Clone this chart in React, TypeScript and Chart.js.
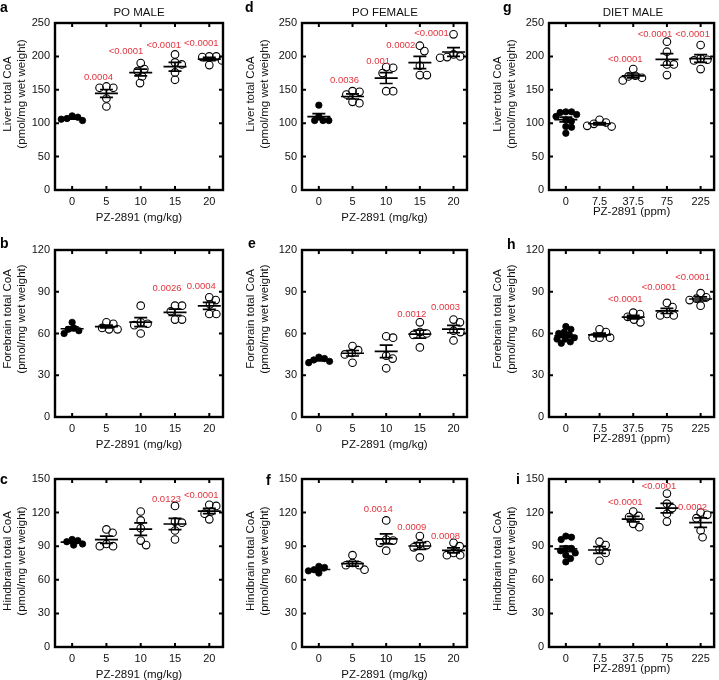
import React, { useEffect, useRef } from "react";
import { Chart, registerables } from "chart.js";

Chart.register(...registerables);

const FONT = '"Liberation Sans", Arial, Helvetica, sans-serif';
const RED = "#e2343e";
const INK = "#111";

// ---------- categories / ticks ----------
const doseMgKg = ["0", "5", "10", "15", "20"];
const dosePpm = ["0", "7.5", "37.5", "75", "225"];
const liverTicks = [0, 50, 100, 150, 200, 250];
const forebrainTicks = [0, 30, 60, 90, 120];
const hindbrainTicks = [0, 30, 60, 90, 120, 150];

// ---------- a: Liver, PO male ----------
const liverPoMale = [
  [104, 106, 107, 109, 111],
  [155, 153, 153, 137, 125],
  [190, 181, 178, 170, 160],
  [203, 191, 188, 176, 165],
  [200, 200, 199, 194, 187],
];
const liverPoMaleP = ["", "0.0004", "<0.0001", "<0.0001", "<0.0001"];
const liverPoMalePY = [0, 169, 208, 217, 219];

// ---------- d: Liver, PO female ----------
const liverPoFemale = [
  [127, 110, 104, 104, 104],
  [147, 143, 148, 130, 132],
  [183, 184, 175, 148, 148],
  [216, 208, 186, 172, 172],
  [233, 203, 200, 199, 198],
];
const liverPoFemaleP = ["", "0.0036", "0.001", "0.0002", "<0.0001"];
const liverPoFemalePY = [0, 164, 193, 217, 235];

// ---------- g: Liver, diet male ----------
const liverDietMale = [
  [117, 116, 117, 113, 110, 105, 103, 95, 94, 85],
  [105, 101, 99, 96, 95],
  [181, 171, 170, 168, 164],
  [222, 207, 188, 188, 172],
  [217, 197, 195, 194, 181],
];
const liverDietMaleP = ["", "", "<0.0001", "<0.0001", "<0.0001"];
const liverDietMalePY = [0, 0, 195, 233, 233];

// ---------- b: Forebrain, PO male ----------
const forebrainPoMale = [
  [68, 64, 63, 62, 60],
  [68, 67, 64, 63, 63],
  [80, 68, 67, 66, 60],
  [80, 80, 76, 70, 70],
  [86, 84, 81, 74, 74],
];
const forebrainPoMaleP = ["", "", "", "0.0026", "0.0004"];
const forebrainPoMalePY = [0, 0, 0, 92.4, 94];

// ---------- e: Forebrain, PO female ----------
const forebrainPoFemale = [
  [43, 42, 41, 40, 39],
  [51, 48, 46, 45, 39],
  [58, 57, 44, 42, 35],
  [68, 61, 60, 59, 50],
  [70, 68, 62, 61, 55],
];
const forebrainPoFemaleP = ["", "", "", "0.0012", "0.0003"];
const forebrainPoFemalePY = [0, 0, 0, 74, 78.7];

// ---------- h: Forebrain, diet male ----------
const forebrainDietMale = [
  [65, 63, 61, 60, 59, 57, 56, 56, 54, 53],
  [63, 61, 57, 57, 57],
  [75, 74, 72, 70, 68],
  [82, 79, 74, 73, 73],
  [89, 86, 85, 84, 80],
];
const forebrainDietMaleP = ["", "", "<0.0001", "<0.0001", "<0.0001"];
const forebrainDietMalePY = [0, 0, 84.2, 93, 100];

// ---------- c: Hindbrain, PO male ----------
const hindbrainPoMale = [
  [96, 95, 94, 92, 91],
  [105, 102, 92, 90, 90],
  [121, 113, 106, 95, 91],
  [126, 111, 112, 104, 96],
  [127, 126, 121, 119, 114],
];
const hindbrainPoMaleP = ["", "", "", "0.0123", "<0.0001"];
const hindbrainPoMalePY = [0, 0, 0, 131.5, 135.4];

// ---------- f: Hindbrain, PO female ----------
const hindbrainPoFemale = [
  [72, 71, 69, 68, 66],
  [82, 75, 73, 73, 69],
  [113, 96, 95, 93, 86],
  [99, 92, 91, 89, 80],
  [93, 90, 84, 82, 82],
];
const hindbrainPoFemaleP = ["", "", "0.0014", "0.0009", "0.0008"];
const hindbrainPoFemalePY = [0, 0, 122.5, 107, 98.6];

// ---------- i: Hindbrain, diet male ----------
const hindbrainDietMale = [
  [99, 98, 96, 88, 88, 86, 84, 82, 79, 76],
  [94, 91, 87, 84, 77],
  [121, 117, 116, 110, 107],
  [137, 128, 124, 119, 112],
  [120, 118, 115, 104, 98],
];
const hindbrainDietMaleP = ["", "", "<0.0001", "<0.0001", "0.0002"];
const hindbrainDietMalePY = [0, 0, 129, 143, 125];

// ---------- layout ----------
const PLOT_L = [55, 302, 549];
const PLOT_R = [223, 467, 716];
const PLOT_T = [23, 250, 479];
const PLOT_B = [190, 417, 647];
const CANVAS_L = [0, 240, 480];
const CANVAS_W = [240, 239, 239];
const CANVAS_T = [0, 227, 455];
const CANVAS_H = 232;
const Y_AXIS_W = [55, 59, 59];
const X_AXIS_H = [35, 35, 28.5];
const Y_TITLE_X = [14, 257, 504];
const Y_TITLE_Y = [94, 319, 561];
const X_MIN = -0.5;
const X_MAX = 4.4;
const OPEN_R = 3.8;
const FILLED_R = 3.2;
const SWARM_D_OPEN = 7;
const SWARM_D_FILLED = 5.8;

type PanelSpec = {
  letter: string;
  letterX: number;
  letterBase: number;
  title?: string;
  col: number;
  row: number;
  cats: string[];
  xTitle: string;
  yTitle: string[];
  yTicks: number[];
  groups: number[][];
  pText: string[];
  pY: number[];
};

const liverTitle = ["Liver total CoA", "(pmol/mg wet weight)"];
const foreTitle = ["Forebrain total CoA", "(pmol/mg wet weight)"];
const hindTitle = ["Hindbrain total CoA", "(pmol/mg wet weight)"];
const mgTitle = "PZ-2891 (mg/kg)";
const ppmTitle = "PZ-2891 (ppm)";

const panels: PanelSpec[] = [
  { letter: "a", letterX: 0, letterBase: 12, title: "PO MALE", col: 0, row: 0, cats: doseMgKg, xTitle: mgTitle, yTitle: liverTitle, yTicks: liverTicks, groups: liverPoMale, pText: liverPoMaleP, pY: liverPoMalePY },
  { letter: "d", letterX: 245, letterBase: 12, title: "PO FEMALE", col: 1, row: 0, cats: doseMgKg, xTitle: mgTitle, yTitle: liverTitle, yTicks: liverTicks, groups: liverPoFemale, pText: liverPoFemaleP, pY: liverPoFemalePY },
  { letter: "g", letterX: 503, letterBase: 12, title: "DIET MALE", col: 2, row: 0, cats: dosePpm, xTitle: ppmTitle, yTitle: liverTitle, yTicks: liverTicks, groups: liverDietMale, pText: liverDietMaleP, pY: liverDietMalePY },
  { letter: "b", letterX: 0, letterBase: 248, col: 0, row: 1, cats: doseMgKg, xTitle: mgTitle, yTitle: foreTitle, yTicks: forebrainTicks, groups: forebrainPoMale, pText: forebrainPoMaleP, pY: forebrainPoMalePY },
  { letter: "e", letterX: 248, letterBase: 248, col: 1, row: 1, cats: doseMgKg, xTitle: mgTitle, yTitle: foreTitle, yTicks: forebrainTicks, groups: forebrainPoFemale, pText: forebrainPoFemaleP, pY: forebrainPoFemalePY },
  { letter: "h", letterX: 507, letterBase: 249, col: 2, row: 1, cats: dosePpm, xTitle: ppmTitle, yTitle: foreTitle, yTicks: forebrainTicks, groups: forebrainDietMale, pText: forebrainDietMaleP, pY: forebrainDietMalePY },
  { letter: "c", letterX: 0, letterBase: 484, col: 0, row: 2, cats: doseMgKg, xTitle: mgTitle, yTitle: hindTitle, yTicks: hindbrainTicks, groups: hindbrainPoMale, pText: hindbrainPoMaleP, pY: hindbrainPoMalePY },
  { letter: "f", letterX: 266, letterBase: 485, col: 1, row: 2, cats: doseMgKg, xTitle: mgTitle, yTitle: hindTitle, yTicks: hindbrainTicks, groups: hindbrainPoFemale, pText: hindbrainPoFemaleP, pY: hindbrainPoFemalePY },
  { letter: "i", letterX: 516, letterBase: 484, col: 2, row: 2, cats: dosePpm, xTitle: ppmTitle, yTitle: hindTitle, yTicks: hindbrainTicks, groups: hindbrainDietMale, pText: hindbrainDietMaleP, pY: hindbrainDietMalePY },
];

// beeswarm layout: x offsets (in data units) so circles don't overlap much
function swarmOffsets(vals: number[], pxX: number, pxY: number, D: number): number[] {
  const order = vals.map((_, i) => i).sort((a, b) => vals[b] - vals[a]);
  const placed: { x: number; y: number }[] = [];
  const off = new Array(vals.length).fill(0);
  for (const i of order) {
    const y = vals[i] * pxY;
    const cands = [0];
    for (const p of placed) {
      const dy = Math.abs(p.y - y);
      if (dy < D) {
        const dx = Math.sqrt(D * D - dy * dy);
        cands.push(p.x + dx, p.x - dx);
      }
    }
    cands.sort((a, b) => Math.abs(a) - Math.abs(b));
    let chosen = 0;
    for (const c of cands) {
      if (placed.every((p) => (p.x - c) ** 2 + (p.y - y) ** 2 >= D * D - 0.01)) {
        chosen = c;
        break;
      }
    }
    placed.push({ x: chosen, y });
    off[i] = chosen / pxX;
  }
  return off;
}

function meanSem(v: number[]) {
  const n = v.length;
  const m = v.reduce((s, x) => s + x, 0) / n;
  const sd = Math.sqrt(v.reduce((s, x) => s + (x - m) ** 2, 0) / (n - 1));
  return { m, sem: sd / Math.sqrt(n) };
}

function Panel({ spec }: { spec: PanelSpec }) {
  const ref = useRef<HTMLCanvasElement>(null);
  const c = spec.col;
  const r = spec.row;
  const cl = CANVAS_L[c];
  const ct = CANVAS_T[r];
  const cw = CANVAS_W[c];
  const ch = CANVAS_H;

  useEffect(() => {
    if (!ref.current) return;
    const yMax = spec.yTicks[spec.yTicks.length - 1];
    const pxX = (PLOT_R[c] - PLOT_L[c]) / (X_MAX - X_MIN);
    const pxY = (PLOT_B[r] - PLOT_T[r]) / yMax;

    const pts: { x: number; y: number }[][] = spec.groups.map((vals, g) => {
      const off = swarmOffsets(vals, pxX, pxY, g === 0 ? SWARM_D_FILLED : SWARM_D_OPEN);
      return vals.map((v, j) => ({ x: g + off[j], y: v }));
    });
    const ctrlData = pts[0];
    const treatedData = pts.slice(1).flat();

    const decor = {
      id: "decor",
      afterDatasetsDraw(chart: any) {
        const { ctx, chartArea: a, scales } = chart;
        const x = scales.x;
        const y = scales.y;
        ctx.save();
        ctx.strokeStyle = "#000";
        ctx.lineCap = "butt";
        // mean ± SEM
        ctx.lineWidth = 1.7;
        spec.groups.forEach((vals, g) => {
          const { m, sem } = meanSem(vals);
          const px = x.getPixelForValue(g);
          const pm = y.getPixelForValue(m);
          const pu = y.getPixelForValue(m + sem);
          const pl = y.getPixelForValue(m - sem);
          ctx.beginPath();
          ctx.moveTo(px - 11.5, pm);
          ctx.lineTo(px + 11.5, pm);
          ctx.moveTo(px, pu);
          ctx.lineTo(px, pl);
          ctx.moveTo(px - 6.5, pu);
          ctx.lineTo(px + 6.5, pu);
          ctx.moveTo(px - 6.5, pl);
          ctx.lineTo(px + 6.5, pl);
          ctx.stroke();
        });
        // frame
        ctx.lineWidth = 2.4;
        ctx.strokeRect(a.left, a.top, a.right - a.left, a.bottom - a.top);
        // inner ticks
        ctx.lineWidth = 2;
        ctx.beginPath();
        spec.yTicks.slice(1, -1).forEach((v) => {
          const py = y.getPixelForValue(v);
          ctx.moveTo(a.left, py);
          ctx.lineTo(a.left + 4, py);
          ctx.moveTo(a.right, py);
          ctx.lineTo(a.right - 4, py);
        });
        spec.cats.forEach((_, g) => {
          const px = x.getPixelForValue(g);
          ctx.moveTo(px, a.top);
          ctx.lineTo(px, a.top + 4);
          ctx.moveTo(px, a.bottom);
          ctx.lineTo(px, a.bottom - 4);
        });
        ctx.stroke();
        // p-values (placed right to left, avoiding points and each other)
        ctx.font = `9.5px ${FONT}`;
        ctx.fillStyle = RED;
        ctx.textAlign = "center";
        ctx.textBaseline = "middle";
        let prev: { left: number; y: number } | null = null;
        for (let g = spec.pText.length - 1; g >= 0; g--) {
          const t = spec.pText[g];
          if (!t) continue;
          const gx = x.getPixelForValue(g);
          const ly = y.getPixelForValue(spec.pY[g]);
          const w = ctx.measureText(t).width;
          let cx = gx - 8;
          if (cx + w / 2 > a.right + 2) cx = a.right + 2 - w / 2;
          if (prev && Math.abs(prev.y - ly) < 9 && cx + w / 2 > prev.left - 3) {
            cx = prev.left - 3 - w / 2;
          }
          const pp = pts[g].map((p) => ({ x: x.getPixelForValue(p.x), y: y.getPixelForValue(p.y) }));
          const hits = (cc: number) =>
            pp.some((p) => Math.abs(p.y - ly) < 3.5 && p.x > cc - w / 2 - 4 && p.x < cc + w / 2 + 4);
          let guard = 0;
          while (hits(cx) && guard++ < 60) cx -= 1;
          ctx.fillText(t, cx, ly);
          prev = { left: cx - w / 2, y: ly };
        }
        ctx.restore();
      },
    };

    const chart = new Chart(ref.current, {
      type: "scatter",
      data: {
        datasets: [
          {
            data: ctrlData,
            pointRadius: FILLED_R,
            pointBackgroundColor: "#000",
            pointBorderColor: "#000",
            pointBorderWidth: 0.8,
            pointHoverRadius: FILLED_R,
          },
          {
            data: treatedData,
            pointRadius: OPEN_R,
            pointBackgroundColor: "rgba(255,255,255,0)",
            pointBorderColor: "#000",
            pointBorderWidth: 1.1,
            pointHoverRadius: OPEN_R,
          },
        ],
      },
      options: {
        responsive: false,
        maintainAspectRatio: false,
        animation: false,
        events: [],
        layout: {
          padding: {
            left: PLOT_L[c] - Y_AXIS_W[c] - cl,
            right: cl + cw - PLOT_R[c],
            top: PLOT_T[r] - ct,
            bottom: ct + ch - PLOT_B[r] - X_AXIS_H[c],
          },
        },
        plugins: {
          legend: { display: false },
          tooltip: { enabled: false },
          title: { display: false },
        },
        scales: {
          x: {
            type: "linear",
            min: X_MIN,
            max: X_MAX,
            afterBuildTicks: (s: any) => {
              s.ticks = spec.cats.map((_, i) => ({ value: i }));
            },
            afterFit: (s: any) => {
              s.height = X_AXIS_H[c];
            },
            grid: { display: false, drawTicks: false },
            border: { display: false },
            ticks: {
              padding: 5,
              color: INK,
              font: { family: FONT, size: 11 },
              autoSkip: false,
              maxRotation: 0,
              callback: (v: any) => spec.cats[Math.round(Number(v))] ?? "",
            },
            title: {
              display: true,
              text: spec.xTitle,
              color: INK,
              font: { family: FONT, size: 11.5 },
              padding: 0,
            },
          },
          y: {
            type: "linear",
            min: 0,
            max: yMax,
            afterBuildTicks: (s: any) => {
              s.ticks = spec.yTicks.map((v) => ({ value: v }));
            },
            afterFit: (s: any) => {
              s.width = Y_AXIS_W[c];
            },
            grid: { display: false, drawTicks: false },
            border: { display: false },
            ticks: {
              padding: 5,
              color: INK,
              font: { family: FONT, size: 11 },
            },
          },
        },
      },
      plugins: [decor],
    } as any);
    return () => chart.destroy();
  }, []);

  const plotCx = Math.round((PLOT_L[c] + PLOT_R[c]) / 2);
  const TW = 140;
  const TH = 28;
  return (
    <>
      <canvas
        ref={ref}
        width={cw}
        height={ch}
        style={{ position: "absolute", left: cl, top: ct, width: cw, height: ch, display: "block" }}
      />
      {spec.title && (
        <div
          style={{
            position: "absolute",
            left: plotCx - 60,
            top: 6,
            width: 120,
            textAlign: "center",
            whiteSpace: "nowrap",
            fontSize: 11.5,
            lineHeight: "13px",
            color: INK,
          }}
        >
          {spec.title}
        </div>
      )}
      <div
        style={{
          position: "absolute",
          left: spec.letterX,
          top: Math.round(spec.letterBase - 12),
          fontSize: 14,
          lineHeight: "14px",
          fontWeight: "bold",
          color: "#000",
        }}
      >
        {spec.letter}
      </div>
      <div
        style={{
          position: "absolute",
          left: Y_TITLE_X[c] - TW / 2,
          top: Y_TITLE_Y[r] - TH / 2,
          width: TW,
          height: TH,
          transform: "rotate(-90deg)",
          whiteSpace: "nowrap",
          fontSize: 11.5,
          lineHeight: "14px",
          textAlign: "center",
          color: INK,
        }}
      >
        <div>{spec.yTitle[0]}</div>
        <div>{spec.yTitle[1]}</div>
      </div>
    </>
  );
}

export default function App() {
  return (
    <div
      style={{
        position: "absolute",
        left: 0,
        top: 0,
        width: 719,
        height: 680,
        overflow: "hidden",
        background: "#fff",
        fontFamily: FONT,
      }}
    >
      {panels.map((p, i) => (
        <Panel key={i} spec={p} />
      ))}
    </div>
  );
}
